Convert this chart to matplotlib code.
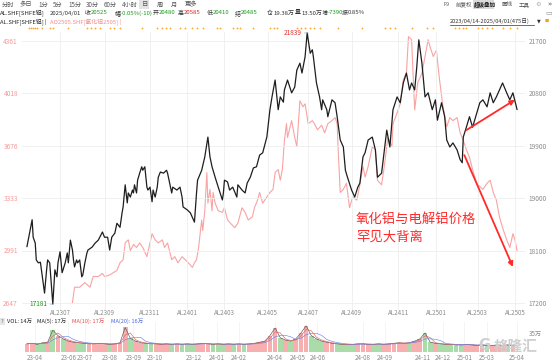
"""AL vs AO daily overlay chart (SHFE aluminium / alumina)"""

import matplotlib.pyplot as plt
import numpy as np
import pandas as pd

plt.rcParams['font.family'] = ['Noto Sans CJK SC', 'DejaVu Sans']

# ---- data (trading-day index from 2023/04/14, 475 days) ----
al_idx = [0, 3, 5, 6, 8, 9, 11, 13, 14, 15, 17, 19, 20, 22, 24, 25, 27, 29, 30, 32,
          34, 37, 39, 40, 42, 44, 45, 46, 48, 49, 51, 53, 54, 56, 58, 59, 63, 66, 69, 73,
          75, 78, 80, 82, 85, 87, 90, 92, 93, 95, 97, 98, 100, 102, 103, 104, 106, 107, 109, 111,
          112, 114, 116, 117, 119, 121, 122, 124, 126, 127, 129, 132, 135, 136, 138, 140, 141, 145, 148, 150,
          151, 155, 158, 161, 162, 164, 165, 169, 172, 175, 177, 179, 182, 185, 189, 190, 191, 194, 196, 199,
          203, 204, 208, 211, 213, 216, 219, 222, 225, 228, 232, 235, 237, 240, 243, 245, 248, 249, 252, 256,
          259, 261, 264, 266, 269, 271, 272, 274, 276, 277, 280, 283, 285, 286, 290, 291, 295, 298, 300, 303,
          306, 308, 310, 314, 317, 320, 322, 325, 327, 330, 334, 337, 339, 343, 346, 348, 351, 354, 358, 361,
          364, 367, 370, 372, 375, 377, 379, 382, 385, 388, 392, 395, 397, 401, 404, 406, 409, 412, 416, 419,
          421, 422, 425, 428, 431, 435, 438, 441, 445, 448, 451, 454, 457, 460, 464, 467, 470, 474]
al_close = [18170, 18450, 18630, 18330, 18230, 17940, 17890, 17900, 17770, 17650, 17370, 17770, 17940, 17890, 17420, 17181, 17770, 17650, 17890, 18080,
            17720, 17890, 18060, 17890, 18280, 18110, 17940, 17820, 17940, 17890, 17940, 17650, 17680, 17890, 18060, 18110, 18160, 18230, 18280, 18420,
            18330, 18330, 18110, 18330, 18400, 18570, 18500, 18750, 18850, 19230, 18920, 19090, 19020, 19140, 19090, 19230, 19090, 19310, 19430, 19540,
            19480, 19540, 19190, 19140, 19190, 18940, 19140, 19020, 19190, 19360, 19450, 19430, 19480, 19430, 19260, 19090, 19190, 19140, 19190, 19020,
            18850, 18800, 18750, 18630, 18590, 19090, 19310, 19480, 19710, 20050, 19710, 19540, 19360, 19190, 18970, 19090, 19310, 19280, 19140, 19190,
            19020, 19230, 19140, 19090, 19260, 19360, 19520, 19540, 19740, 19780, 20050, 20520, 20740, 21030, 20520, 20740, 20650, 20860, 21030, 20810,
            20910, 21200, 21320, 21150, 21430, 21839, 21720, 21490, 21550, 21430, 20980, 20740, 20520, 20690, 20520, 20400, 20690, 20640, 20400, 20000,
            19880, 19480, 19360, 19140, 19020, 19190, 19260, 19710, 19780, 20000, 20050, 19830, 19360, 19430, 19880, 20170, 19880, 20520, 20740, 20640,
            20980, 21150, 20860, 20980, 20860, 21250, 21720, 21320, 20740, 20810, 20520, 20690, 20340, 20640, 20400, 20000, 19880, 19950, 19830, 19660,
            19610, 20050, 20220, 20400, 20220, 20460, 20640, 20690, 20570, 20810, 20640, 20740, 20860, 20980, 20810, 20690, 20810, 20525]

ao_idx = [44, 46, 51, 56, 61, 64, 69, 73, 75, 80, 87, 90, 93, 95, 98, 100, 103, 106, 109, 112,
          116, 119, 121, 124, 127, 131, 133, 136, 140, 143, 146, 150, 153, 156, 160, 162, 164, 166, 169, 170,
          172, 174, 175, 177, 179, 180, 182, 185, 189, 191, 194, 198, 201, 204, 208, 211, 214, 218, 220, 223,
          225, 228, 232, 235, 238, 240, 243, 245, 247, 249, 251, 252, 256, 259, 261, 264, 267, 269, 272, 276,
          278, 281, 285, 288, 291, 295, 298, 300, 301, 303, 306, 309, 312, 315, 319, 322, 325, 327, 330, 334,
          337, 339, 343, 346, 349, 353, 354, 358, 361, 364, 367, 369, 372, 373, 375, 378, 382, 385, 388, 390,
          393, 396, 399, 402, 406, 409, 412, 416, 419, 422, 425, 428, 431, 435, 438, 441, 445, 448, 451, 454,
          457, 460, 464, 467, 470, 472, 474]
ao_close = [2650, 2750, 2750, 2780, 2750, 2820, 2820, 2840, 2820, 2830, 2860, 2910, 2930, 3040, 3060, 2990, 3030, 3010, 3040, 3010,
            2950, 3040, 3100, 3060, 3040, 3060, 3010, 3040, 2930, 2950, 2910, 2950, 2930, 2910, 2880, 2910, 2930, 3010, 3190, 3120,
            3250, 3500, 3300, 3390, 3250, 3370, 3300, 3250, 3240, 3270, 3190, 3160, 3140, 3170, 3270, 3240, 3190, 3210, 3270, 3320,
            3370, 3300, 3340, 3370, 3390, 3500, 3520, 3450, 3520, 3710, 3820, 3730, 3840, 3730, 3670, 3970, 3930, 3950, 3820, 3840,
            3820, 3780, 3810, 3760, 3820, 3840, 3860, 3820, 3650, 3370, 3390, 3430, 3270, 3340, 3320, 3420, 3540, 3470, 3540, 3670,
            3650, 3450, 3420, 3560, 3730, 3670, 3820, 3890, 3950, 4110, 4150, 4390, 4370, 4220, 3910, 4090, 4150, 4260, 4370, 4320,
            4260, 4300, 4110, 3950, 3800, 3860, 3840, 3860, 3760, 3710, 3650, 3600, 3520, 3430, 3410, 3390, 3430, 3450, 3370, 3320,
            3210, 3140, 3060, 3010, 3100, 3060, 2990]

# weekly volume (万手), one value per 5 trading days
vol_idx = list(range(0, 475, 5))
vol = [15, 16, 14, 17, 18, 40, 30, 24, 20, 18, 17, 16, 15, 15, 16, 15, 14, 15, 17, 45,
       25, 20, 17, 16, 15, 15, 14, 15, 14, 15, 14, 15, 14, 15, 16, 15, 14, 15, 14, 15,
       14, 15, 14, 15, 16, 18, 20, 30, 44, 26, 22, 20, 24, 35, 48, 30, 24, 20, 18, 16,
       15, 14, 14, 14, 15, 15, 14, 14, 15, 14, 15, 16, 17, 16, 17, 20, 24, 35, 18, 16,
       15, 14, 14, 13, 13, 14, 13, 12, 13, 12, 12, 13, 12, 13, 12]

al_ticks = [17200, 18100, 19000, 19900, 20800, 21700]
ao_ticks = [2647, 2991, 3333, 3676, 4018, 4361]
contract_idx = [32, 75, 119, 155, 191, 233, 272, 314, 359, 396, 436, 472]
contract_lbl = ['AL2307', 'AL2309', 'AL2311', 'AL2401', 'AL2403', 'AL2405',
                'AL2407', 'AL2409', 'AL2411', 'AL2501', 'AL2503', 'AL2505']
month_idx = [8, 40, 56, 80, 103, 124, 161, 184, 205, 240, 262, 281, 325, 346, 383, 402, 423, 445, 474]
month_lbl = ['23-04', '23-06', '23-07', '23-08', '23-09', '23-10', '23-12', '24-01', '24-02',
             '24-04', '24-05', '24-06', '24-08', '24-09', '24-11', '24-12', '25-01', '25-03', '25-04']
event_idx = [2, 4, 6, 8, 10, 15, 22, 25, 40, 58, 62, 66, 71, 80, 84, 90, 111, 126, 131, 134,
             138, 148, 153, 160, 164, 170, 184, 187, 199, 203, 206, 219, 235, 239, 242, 261, 265, 269, 274, 278,
             283, 301, 324, 346, 351, 356, 372, 387, 393, 414, 418, 422, 425, 436, 440, 445, 450, 460, 467, 474]

W, H = 553, 362
XL = (-4.8, 481.7)
GRAY = '#8c8c8c'
RED = '#ff2a2a'
GREEN = '#1a9a1a'


def put(x, y, s, color='#555555', size=4.5, **kw):
    """text at pixel position"""
    kw.setdefault('va', 'center')
    return fig.text(x / W, 1 - y / H, s, color=color, fontsize=size, **kw)


def box(x, y, w, h, color):
    fig.patches.append(plt.Rectangle((x / W, 1 - (y + h) / H), w / W, h / H,
                                     transform=fig.transFigure, fc=color, ec='none'))


fig = plt.figure(figsize=(W / 100, H / 100), dpi=100)

# ---- toolbar / header ----
tools = [(2, '分时'), (20, '多日'), (38, '1分'), (53, '5分'), (68, '15分'), (86, '30分'),
         (104, '60分'), (122, '4小时'), (142, '日'), (157, '周'), (171, '月'), (185, '更多')]
box(139, 0.5, 10, 8.5, '#e3e3e3')
for x, s in tools:
    put(x, 4.5, s, size=4.5)
put(444, 4.5, 'F9', size=4.0)
put(456, 4.5, '前复权', size=4.0)
box(473, 0.5, 21, 8.5, '#d9d9d9')
put(474, 4.5, '超级叠加', color='#222222', size=4.0, weight='bold')
put(502, 4.5, '画线', size=4.0)
put(519, 4.5, '工具', size=4.0)
put(535, 4.5, '⚙', color='#aaaaaa', size=4.5, family='DejaVu Sans')
put(547, 4.5, '»', size=5, family='DejaVu Sans')

# quote row: (x, label, value, value colour)
row2 = [(85, '收', '20525', GREEN), (115, '幅', '-0.05%(-10)', GREEN),
        (153, '开', '20480', GREEN), (178, '高', '20585', '#e02020'),
        (207, '低', '20410', GREEN), (235, '结', '20485', GREEN),
        (267, '仓', '19.38万', '#333333'), (295, '量', '13.50万', '#333333'),
        (322, '增', '-7390', GREEN), (342, '振', '0.85%', '#333333')]
put(0, 13, 'AL.SHF[SHFE铝]', color='#222222', size=4.3)
put(50, 13, '2025/04/01', color='#333333', size=4.3)
for x, lab, val, c in row2:
    put(x, 13, lab, color='#333333', size=4.3)
    put(x + 6, 13, val, color=c, size=4.3)
put(0, 22, 'AL.SHF[SHFE铝] |', color='#222222', size=4.2)
put(50, 22, 'AO2505.SHF[氧化铝2505] |', color='#f08a8a', size=4.2)
put(450, 21, '2023/04/14-2025/04/01(475日)', color='#333333', size=4.1)
fig.add_artist(plt.Line2D([450 / W, 534 / W], [1 - 24.5 / H] * 2, color='#333333', lw=0.5))
put(537, 21, '▼', color='#333333', size=3.5, family='DejaVu Sans')
put(545, 21, '■', color='#f0a020', size=3.2, family='DejaVu Sans')
put(545, 12, '▭', color='#999999', size=5, family='DejaVu Sans')

# ---- main price panel ----
ax = fig.add_axes([22 / W, 1 - 310 / H, 503 / W, 278 / H])
ax2 = ax.twinx()
ax.set_zorder(2)
ax2.set_zorder(1)
ax.patch.set_visible(False)

ax2.plot(ao_idx, ao_close, color='#f9a3a3', lw=0.8)
ax.plot(al_idx, al_close, color='#1e1e1e', lw=0.9)

ax.set_xlim(XL)
ax.set_ylim(17080, 21855)
ax2.set_ylim(2601, 4420)

ax.yaxis.set_ticks_position('right')
ax2.yaxis.set_ticks_position('left')
ax.set_yticks(al_ticks)
ax.set_yticklabels([str(t) for t in al_ticks])
ax2.set_yticks(ao_ticks)
ax2.set_yticklabels([str(t) for t in ao_ticks])
ax.tick_params(axis='y', length=0, pad=2.5, labelsize=4.7, labelcolor=GRAY)
ax2.tick_params(axis='y', length=0, pad=3, labelsize=4.7, labelcolor='#f49a9a')
ax.set_xticks(contract_idx)
ax.set_xticklabels(contract_lbl)
ax.tick_params(axis='x', length=0, pad=-1, labelsize=4.5, labelcolor=GRAY)
ax.grid(color='#eeeeee', lw=0.6)
ax2.grid(False)
for a in (ax, ax2):
    for sp in a.spines.values():
        sp.set_visible(False)

# event markers above the chart
ax.plot(event_idx, [1.013] * len(event_idx), 'o', ms=1.3, color='#ffa726', mec='none',
        transform=ax.get_xaxis_transform(), clip_on=False)

# high / low labels
i_hi = int(np.argmax(al_close))
i_lo = int(np.argmin(al_close))
ax.annotate(str(al_close[i_hi]), xy=(al_idx[i_hi], al_close[i_hi]), xytext=(-4, 0),
            textcoords='offset points', ha='right', va='center', fontsize=4.7, color='#e03030',
            arrowprops=dict(arrowstyle='-', color='#8fb4d8', lw=0.5, shrinkA=0, shrinkB=0))
ax.annotate(str(al_close[i_lo]), xy=(al_idx[i_lo], al_close[i_lo]), xytext=(-4, 0),
            textcoords='offset points', ha='right', va='center', fontsize=4.7, color=GREEN,
            arrowprops=dict(arrowstyle='-', color='#8fb4d8', lw=0.5, shrinkA=0, shrinkB=0))

# divergence arrows
arrow = dict(arrowstyle='-|>', color=RED, lw=1.3, mutation_scale=7, shrinkA=0, shrinkB=0)
ax.annotate('', xy=(472, 20690), xytext=(425, 20170), arrowprops=arrow)
ax.annotate('', xy=(470, 17820), xytext=(423, 19740), arrowprops=arrow)
put(356, 228, '氧化铝与电解铝价格\n罕见大背离', color=RED, size=9.6, linespacing=1.35)

# ---- volume panel ----
axv = fig.add_axes([22 / W, 1 - 352 / H, 503 / W, 30 / H])
al_at = np.interp(vol_idx, al_idx, al_close)
up = np.diff(np.r_[al_at[0], al_at]) >= 0
colors = np.where(up, '#f7afaf', '#aadcaa')
axv.bar(vol_idx, vol, width=4.6, color=colors, lw=0)
vs = pd.Series(vol, dtype=float)
axv.plot(vol_idx, vs, color='#555555', lw=0.45)
axv.plot(vol_idx, vs.rolling(2, min_periods=1).mean(), color='#e86060', lw=0.45)
axv.plot(vol_idx, vs.rolling(4, min_periods=1).mean(), color='#6f86e8', lw=0.45)
axv.set_xlim(XL)
axv.set_ylim(0, 55)
axv.yaxis.set_ticks_position('right')
axv.set_yticks([35])
axv.set_yticklabels(['35万'])
axv.tick_params(axis='y', length=0, pad=2.5, labelsize=4.5, labelcolor=GRAY)
axv.set_xticks(month_idx)
axv.set_xticklabels(month_lbl)
axv.tick_params(axis='x', length=0, pad=1.5, labelsize=4.5, labelcolor=GRAY)
axv.grid(axis='x', color='#f0f0f0', lw=0.5)
axv.set_axisbelow(True)
for sp in axv.spines.values():
    sp.set_visible(False)

put(1, 321.5, '?', color='#777777', size=3.8, family='DejaVu Sans',
    bbox=dict(boxstyle='square,pad=0.15', fc='#e6e6e6', ec='none'))
put(7, 321.5, 'VOL: 14万', color='#222222', size=4.0)
put(37, 321.5, 'MA(5): 17万', color='#222222', size=4.0)
put(72, 321.5, 'MA(10): 17万', color='#e84a4a', size=4.0)
put(111, 321.5, 'MA(20): 16万', color='#4a66e0', size=4.0)

# watermark
put(478, 346, 'G', color='#cfcfcf', size=10.5, weight='bold', family='DejaVu Sans')
put(494, 346, '格隆汇', color='#cfcfcf', size=10.5, weight='bold')

fig.savefig('out.png', dpi=100)
